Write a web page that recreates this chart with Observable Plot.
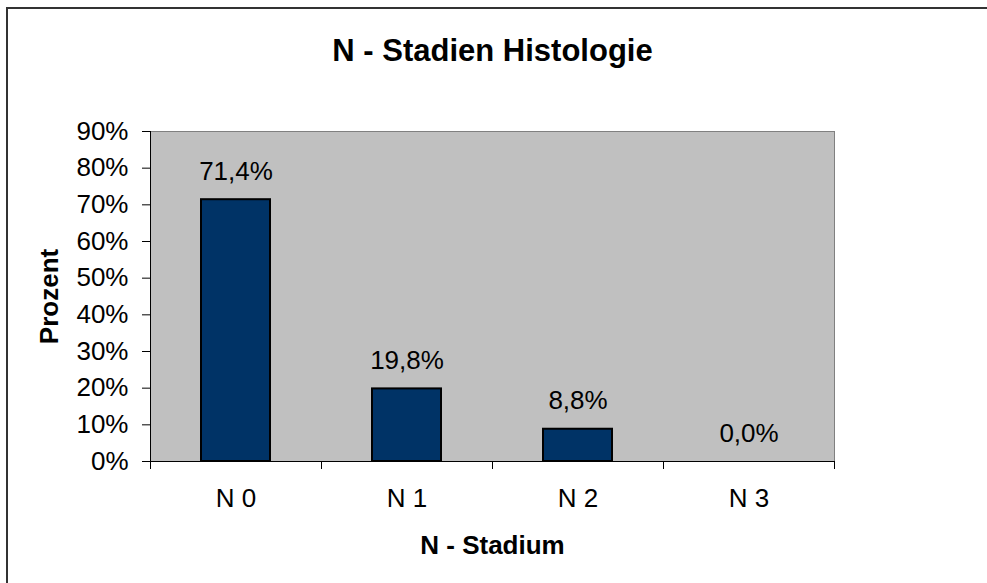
<!DOCTYPE html>
<html>
<head>
<meta charset="utf-8">
<script src="https://cdn.jsdelivr.net/npm/d3@7"></script>
<script src="https://cdn.jsdelivr.net/npm/@observablehq/plot@0.6"></script>
<style>
  html, body { margin: 0; padding: 0; background: #fff; }
  #wrap { position: relative; width: 987px; height: 583px; overflow: hidden; }
  #border {
    position: absolute; left: 6px; top: 7px; width: 1000px; height: 600px;
    border: 2px solid #333; pointer-events: none;
  }
</style>
</head>
<body>
<div id="wrap"><div id="border"></div></div>
<script>
// N stage distribution (histology), in percent
const categories = ["N 0", "N 1", "N 2", "N 3"];
const percents = [71.4, 19.8, 8.8, 0.0];
const yTicks = [0, 10, 20, 30, 40, 50, 60, 70, 80, 90];
const chartTitle = "N - Stadien Histologie";
const xTitle = "N - Stadium";
const yTitle = "Prozent";

const rows = categories.map((cat, i) => ({cat, i, value: percents[i]}));
const fmtValue = v => v.toFixed(1).replace(".", ",") + "%";

const chart = Plot.plot({
  width: 987,
  height: 583,
  marginLeft: 150,
  marginRight: 153,
  marginTop: 131,
  marginBottom: 122,
  style: {fontFamily: "'Liberation Sans', Arial, sans-serif", fontSize: "26px", color: "black", background: "transparent"},
  x: {type: "linear", domain: [0, categories.length]},
  y: {domain: [0, 90]},
  marks: [
    Plot.frame({fill: "#c0c0c0", stroke: "#808080"}),
    Plot.rect(rows, {
      x1: d => d.i, x2: d => d.i + 1, y1: d => 0, y2: "value",
      insetLeft: 51, insetRight: 51,
      fill: "#003366", stroke: "black", strokeWidth: 2
    }),
    Plot.ruleY([0], {stroke: "black"}),
    Plot.ruleX([0], {stroke: "black"}),
    Plot.axisY({ticks: yTicks, tickFormat: d => d + "%", tickSize: 8, tickPadding: 14, label: null, fontSize: 26, stroke: "black"}),
    Plot.axisX({ticks: d3.range(categories.length + 1), tickFormat: () => "", tickSize: 8, label: null, stroke: "black"}),
    Plot.axisX({ticks: categories.map((c, i) => i + 0.5), tickFormat: d => categories[Math.floor(d)], tickSize: 0, tickPadding: 27, label: null, fontSize: 26}),
    Plot.text(rows, {x: d => d.i + 0.5, y: "value", text: d => fmtValue(d.value), dy: -20, lineAnchor: "bottom", fontSize: 26}),
    Plot.text([chartTitle], {frameAnchor: "top", dy: -71, lineAnchor: "bottom", fontSize: 31, fontWeight: "bold"}),
    Plot.text([xTitle], {frameAnchor: "bottom", dy: 92, lineAnchor: "bottom", fontSize: 26, fontWeight: "bold"}),
    Plot.text([yTitle], {frameAnchor: "left", dx: -93, rotate: -90, textAnchor: "middle", lineAnchor: "bottom", fontSize: 26, fontWeight: "bold"})
  ]
});
document.getElementById("wrap").prepend(chart);
</script>
</body>
</html>
